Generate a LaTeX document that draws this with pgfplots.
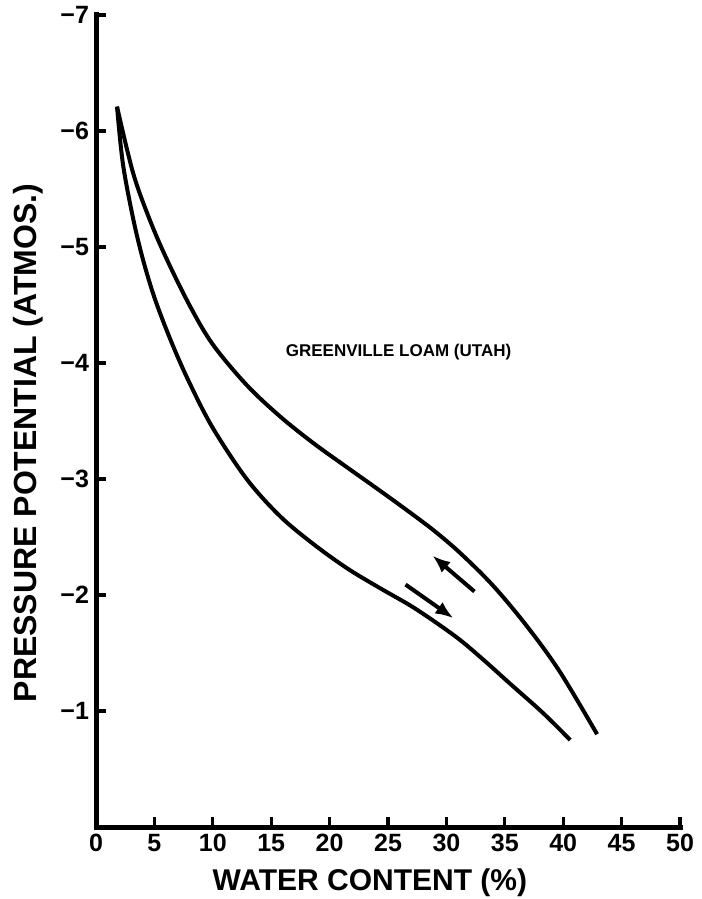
\documentclass[border=0pt]{standalone}
\usepackage{pgfplots}
\pgfplotsset{compat=1.18}
\usepackage{fontspec}
\setmainfont{Liberation Sans}
\usetikzlibrary{arrows.meta}
\begin{document}
\begin{tikzpicture}
\begin{axis}[name=ax, scale only axis, width=292pt, height=406pt,
  xmin=0, xmax=50, ymin=-7, ymax=0, y dir=reverse,
  axis x line*=bottom, axis y line*=left,
  axis line style={line width=2.5pt, -, line cap=rect},
  xtick={0,5,...,50}, ytick={-7,-6,-5,-4,-3,-2,-1},
  yticklabels={−7,−6,−5,−4,−3,−2,−1},
  xticklabels={0,5,10,15,20,25,30,35,40,45,50},
  tick align=inside, major tick length=5pt,
  tick style={line width=1.6pt, black},
  ticklabel style={font=\bfseries\fontsize{12.5}{14}\selectfont},
  xlabel={WATER CONTENT (\%)}, ylabel={PRESSURE POTENTIAL (ATMOS.)},
  xlabel style={font=\bfseries\fontsize{15}{18}\selectfont, at={(axis description cs:0.469,0)}, anchor=center, yshift=-28pt},
  ylabel style={font=\bfseries\fontsize{16}{18}\selectfont, at={(axis description cs:-0.1164,0.473)}, anchor=center},
  clip=false]
\addplot[black, line width=2pt, smooth, tension=0.55] coordinates {
(1.8,-6.21) (3.17,-5.64) (4.62,-5.23) (6.08,-4.89) (8.05,-4.49) (10.0,-4.16) (12.9,-3.81) (15.75,-3.54) (18.6,-3.31) (21.5,-3.10) (24.3,-2.90) (26.9,-2.71) (29.0,-2.55) (31.2,-2.36) (34.0,-2.08) (36.9,-1.73) (39.7,-1.34) (42.9,-0.80)};
\addplot[black, line width=2pt, smooth, tension=0.55] coordinates {
(1.8,-6.21) (2.3,-5.72) (3.17,-5.25) (4.0,-4.90) (5.05,-4.55) (6.5,-4.17) (8.0,-3.83) (10.0,-3.44) (12.9,-3.00) (15.75,-2.68) (18.6,-2.44) (21.5,-2.23) (24.3,-2.06) (26.9,-1.91) (29.0,-1.77) (31.2,-1.61) (33.3,-1.43) (35.4,-1.24) (38.3,-0.98) (40.6,-0.75)};
\addplot[black, line width=2pt, -{Latex[length=9pt,width=7pt]}] coordinates {(32.4,-2.03) (28.8,-2.34)};
\addplot[black, line width=2pt, -{Latex[length=9pt,width=7pt]}] coordinates {(26.5,-2.09) (30.6,-1.80)};
\node[font=\bfseries\fontsize{8.5}{10}\selectfont] at (axis cs:25.9,-4.09) {GREENVILLE LOAM (UTAH)};
\end{axis}
\pgfresetboundingbox
\path ([xshift=-48pt,yshift=-36pt]ax.south west) rectangle ([xshift=10.5pt,yshift=7.5pt]ax.north east);
\end{tikzpicture}
\end{document}
